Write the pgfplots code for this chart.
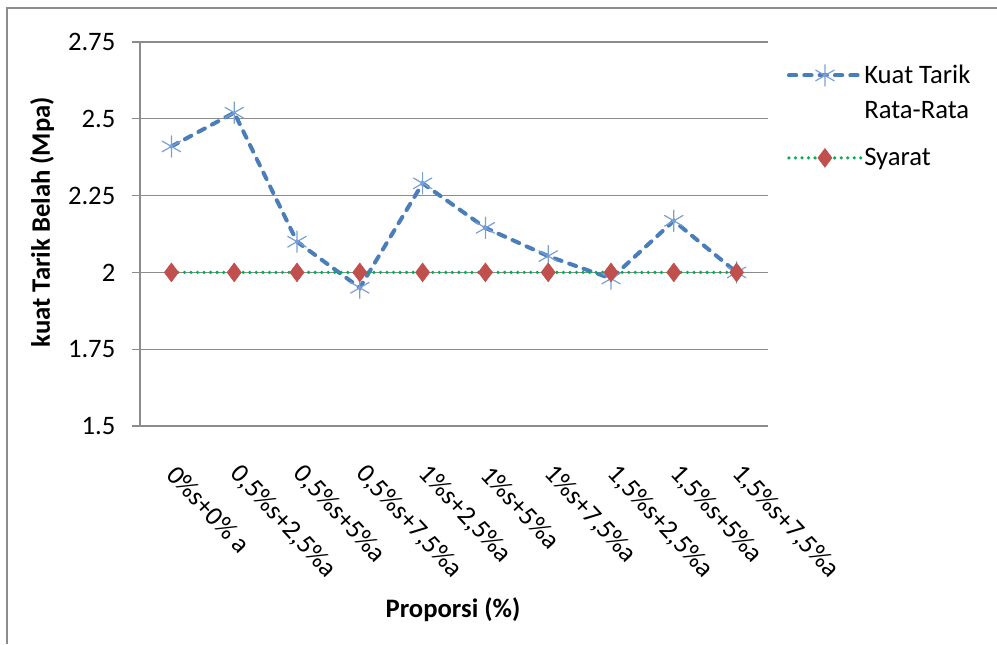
\documentclass[border=0pt]{standalone}
\usepackage{fontspec}
\setmainfont{Carlito}
\usepackage{pgfplots}
\pgfplotsset{compat=1.18}
\definecolor{lineblue}{HTML}{4A7EBB}
\definecolor{markblue}{HTML}{7A9FD6}
\definecolor{syaratgreen}{HTML}{00B050}
\definecolor{syaratred}{HTML}{C0504D}
\definecolor{gridgray}{HTML}{8C8C8C}
\begin{document}
\begin{tikzpicture}
% canvas 997 x 644 px, 1 px = 0.75 pt
\path[use as bounding box] (0,0) rectangle (747.75pt,483pt);
\draw[gridgray, line width=1.8pt] (5.25pt,0pt) -- (5.25pt,477pt) -- (747.75pt,477pt);
\begin{axis}[
  at={(105pt,163.5pt)}, anchor=south west,
  scale only axis, width=471pt, height=288pt,
  xmin=0.5, xmax=10.5, ymin=1.5, ymax=2.75,
  xtick={1,...,10},
  xticklabels={{0\%s+0\% a}, {0,5\%s+2,5\%a}, {0,5\%s+5\%a}, {0,5\%s+7,5\%a}, {1\%s+2,5\%a}, {1\%s+5\%a}, {1\%s+7,5\%a}, {1,5\%s+2,5\%a}, {1,5\%s+5\%a}, {1,5\%s+7,5\%a}},
  ytick={1.5,1.75,2,2.25,2.5,2.75},
  axis lines*=left,
  axis line style={gridgray, line width=1pt},
  ymajorgrids, grid style={gridgray, line width=1pt},
  tick align=outside, major tick length=6pt,
  ytick style={gridgray, line width=1pt},
  xtick style={draw=none},
  /pgf/number format/assume math mode=true,
  yticklabel style={font=\fontsize{20}{24}\selectfont, xshift=-9pt},
  xticklabel style={font=\fontsize{20}{24}\selectfont, rotate=-47, anchor=west, yshift=-18pt, xshift=16.5pt},
  clip=false,
  legend style={at={(axis description cs:1,1)}, anchor=north west,
    xshift=14pt, yshift=-16pt, draw=none, fill=none, inner sep=0pt,
    font=\fontsize{20}{24}\selectfont, row sep=10pt,
    nodes={inner sep=1pt, anchor=base west}},
  legend image code/.code={\draw[mark repeat=2,mark phase=2,#1] plot coordinates {(0pt,6pt) (27pt,6pt) (54pt,6pt)};},
]
\addplot[lineblue, line width=3pt, line cap=round, dash pattern=on 5.5pt off 6pt,
  mark=asterisk, mark size=8pt, mark options={solid, draw=markblue, line width=0.9pt}]
  coordinates {(1,2.41) (2,2.52) (3,2.10) (4,1.95) (5,2.29) (6,2.145) (7,2.053) (8,1.98) (9,2.168) (10,2.00)};
\addlegendentry{\rule[-2pt]{0pt}{14pt}Kuat Tarik}
\addlegendimage{empty legend}
\addlegendentry{\rule[-2pt]{0pt}{14pt}Rata-Rata}
\addplot[syaratgreen, line width=2.7pt, line cap=round, dash pattern=on 0pt off 4.9pt,
  mark=diamond*, mark size=7pt, mark options={solid, draw=syaratred, fill=syaratred, line width=0.5pt}]
  coordinates {(1,2) (2,2) (3,2) (4,2) (5,2) (6,2) (7,2) (8,2) (9,2) (10,2)};
\addlegendentry{\rule[-4pt]{0pt}{26pt}Syarat}
\end{axis}
\node[font=\bfseries\fontsize{20}{24}\selectfont] at (339.75pt,25.5pt) {Proporsi (\%)};
\node[font=\bfseries\fontsize{20}{24}\selectfont, rotate=90] at (31.5pt,316.5pt) {kuat Tarik Belah (Mpa)};
\end{tikzpicture}
\end{document}
